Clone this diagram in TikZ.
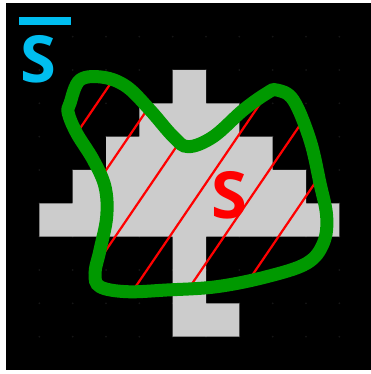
\documentclass[tikz,border=0pt]{standalone}
\usepackage{fontspec}
\setmainfont{Open Sans}
\definecolor{skyc}{RGB}{0,190,240}
\definecolor{grn}{RGB}{0,153,0}
\definecolor{lgrey}{RGB}{204,204,204}
\definecolor{dotc}{RGB}{22,22,22}
\tikzset{
  hatchline/.style={red, line width=2.2pt},
  loopline/.style={grn, line width=13pt},
  bigS/.style={inner sep=0pt, font=\fontsize{65}{65}\selectfont\bfseries}
}
\begin{document}
\begin{tikzpicture}[x=1pt,y=-1pt]
\useasboundingbox (0,0) rectangle (371,374);
\fill[white] (0,0) rectangle (371,374);
\fill[black] (6,3.333) rectangle (371,370);
% grid dots
\begin{scope}[shift={(6,3.333)}, x=33.333pt, y=-33.333pt]
  \foreach \i in {1,...,10}{
    \foreach \j in {1,...,10}{
      \fill[dotc] (\i,\j) circle (0.03);
    }
  }
  \fill[lgrey] (5,2)--(6,2)--(6,3)--(7,3)--(7,4)--(8,4)--(8,5)--(9,5)--(9,6)--(10,6)--(10,7)--(6,7)--(6,9)--(7,9)--(7,10)--(5,10)--(5,7)--(1,7)--(1,6)--(2,6)--(2,5)--(3,5)--(3,4)--(4,4)--(4,3)--(5,3)--cycle;
\end{scope}
% hatching clipped to the loop
\begin{scope}
  \clip plot[smooth cycle, tension=0.6] coordinates {(70,103.3) (80,80) (103.3,77.3) (126.7,86.7) (150,110) (173.3,136.7) (188.3,146.7) (213.3,136.7) (243.3,110) (266.7,93.3) (276.7,90) (293.3,100) (310,140) (320,183.3) (326.7,216.7) (323.3,243.3) (306.7,263.3) (266.7,276.7) (216.7,286.7) (166.7,290) (126.7,291.7) (100,286.7) (95,273.3) (100,250) (106.7,216.7) (105,186.7) (93.3,160) (76.7,133.3) (68.3,113.3)};
  \foreach \c in {246,326,406,486,566,646}{
    \draw[hatchline] ({(\c-380)/1.47},380) -- ({\c/1.47},0);
  }
\end{scope}
\draw[loopline] plot[smooth cycle, tension=0.6] coordinates {(70,103.3) (80,80) (103.3,77.3) (126.7,86.7) (150,110) (173.3,136.7) (188.3,146.7) (213.3,136.7) (243.3,110) (266.7,93.3) (276.7,90) (293.3,100) (310,140) (320,183.3) (326.7,216.7) (323.3,243.3) (306.7,263.3) (266.7,276.7) (216.7,286.7) (166.7,290) (126.7,291.7) (100,286.7) (95,273.3) (100,250) (106.7,216.7) (105,186.7) (93.3,160) (76.7,133.3) (68.3,113.3)};
% labels
\fill[skyc] (19.3,17.3) rectangle (71,25);
\node[bigS, text=skyc] (sbar) at (38.3,59) {S};
\node[bigS, text=red] (s) at (229,195.5) {S};
\end{tikzpicture}
\end{document}
